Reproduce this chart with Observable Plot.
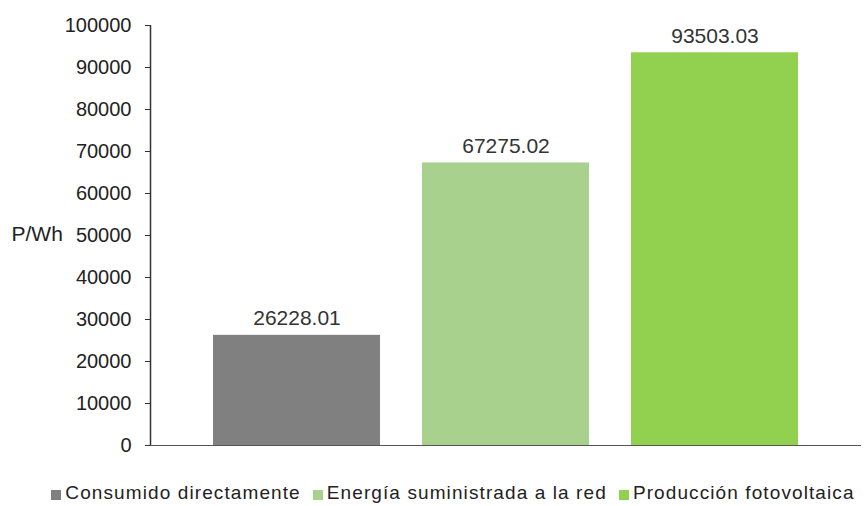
<!DOCTYPE html>
<html>
<head>
<meta charset="utf-8">
<script src="https://cdn.jsdelivr.net/npm/d3@7"></script>
<script src="https://cdn.jsdelivr.net/npm/@observablehq/plot@0.6"></script>
<style>
  html, body { margin: 0; padding: 0; background: #fff; }
  #chart { position: relative; width: 868px; font-family: "Liberation Sans", Arial, sans-serif; }
  #legend { display: flex; justify-content: center; gap: 12px; font-size: 19px; letter-spacing: 1.1px; line-height: 22px; color: #222; margin-top: 16px; padding-left: 38px; white-space: nowrap; }
  #legend span.item { display: flex; align-items: center; }
  #legend span.sw { display: inline-block; width: 10px; height: 10px; margin-right: 4px; margin-top: 3px; }
</style>
</head>
<body>
<div id="chart"></div>
<script>
const categories = ["Consumido directamente", "Energía suministrada a la red", "Producción fotovoltaica"];
const values = [26228.01, 67275.02, 93503.03];
const labels = ["26228.01", "67275.02", "93503.03"];
const colors = ["#808080", "#a9d18e", "#92d050"];
const yTicks = [0, 10000, 20000, 30000, 40000, 50000, 60000, 70000, 80000, 90000, 100000];
const yLabel = "P/Wh";

const data = categories.map((c, i) => ({cat: c, value: values[i], label: labels[i], color: colors[i]}));

const plot = Plot.plot({
  width: 868,
  height: 466,
  marginLeft: 150,
  marginRight: 7,
  marginTop: 25,
  marginBottom: 21,
  style: {fontFamily: "Liberation Sans, Arial, sans-serif", fontSize: "20px", color: "#222", background: "#fff"},
  x: {domain: categories, paddingInner: 0.2, paddingOuter: 0.3, axis: null},
  y: {domain: [0, 100000], ticks: yTicks, label: null},
  marks: [
    Plot.barY(data, {x: "cat", y: "value", fill: "color"}),
    Plot.ruleY([0], {stroke: "#555", strokeWidth: 1.2}),
    Plot.axisY({ticks: yTicks, tickSize: 5, tickPadding: 14, tickFormat: d => String(d), fontSize: 20, label: null, stroke: "#333", fill: "#222"}),
    Plot.text(data, {x: "cat", y: "value", text: "label", dy: -17, fontSize: 21, fill: "#333"}),
    Plot.text([yLabel], {frameAnchor: "left", dx: -139, dy: -1, fontSize: 21, fill: "#222", textAnchor: "start"})
  ]
});
document.getElementById("chart").appendChild(plot);
const svg = d3.select(plot);
svg.append("line").attr("x1", 150.5).attr("x2", 150.5).attr("y1", 25).attr("y2", 445).attr("stroke", "#333").attr("stroke-width", 1.5);

const legend = document.createElement("div");
legend.id = "legend";
categories.forEach((c, i) => {
  const it = document.createElement("span");
  it.className = "item";
  const sw = document.createElement("span");
  sw.className = "sw";
  sw.style.background = colors[i];
  it.appendChild(sw);
  it.appendChild(document.createTextNode(c));
  legend.appendChild(it);
});
document.getElementById("chart").appendChild(legend);
</script>
</body>
</html>
